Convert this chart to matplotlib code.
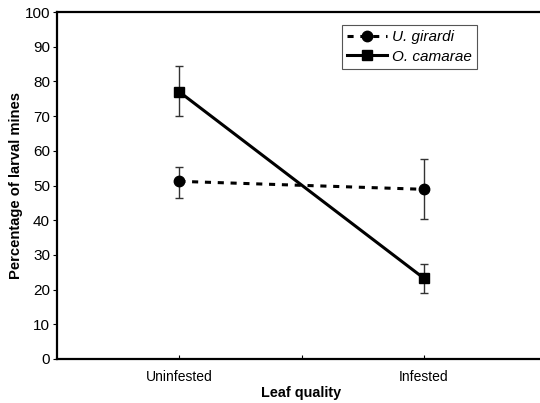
import matplotlib
matplotlib.use("Agg")
from matplotlib import pyplot as plt

plt.rcParams['font.family'] = ['Liberation Sans', 'DejaVu Sans']

categories = ["Uninfested", "Infested"]
girardi = [51.2, 48.9]
girardi_hi = [55.4, 57.5]
girardi_lo = [46.5, 40.3]
camarae = [77.0, 23.3]
camarae_hi = [84.3, 27.4]
camarae_lo = [69.9, 18.9]

xpos = [0, 1]

fig = plt.figure(figsize=(5.4, 4.03), dpi=100)
ax = fig.add_axes([57 / 540, 44 / 403, 489 / 540, 347 / 403])

ax.errorbar(xpos, girardi,
            yerr=[[g - l for g, l in zip(girardi, girardi_lo)],
                  [h - g for g, h in zip(girardi, girardi_hi)]],
            fmt="none", ecolor="#333333", elinewidth=1.0, capsize=3, capthick=1.0)
ax.errorbar(xpos, camarae,
            yerr=[[c - l for c, l in zip(camarae, camarae_lo)],
                  [h - c for c, h in zip(camarae, camarae_hi)]],
            fmt="none", ecolor="#333333", elinewidth=1.0, capsize=3, capthick=1.0)

ax.plot(xpos, girardi, color="black", lw=2.2, linestyle=(0, (2, 2.2)),
        marker="o", ms=7.5, label="U. girardi")
ax.plot(xpos, camarae, color="black", lw=2.2, linestyle="-",
        marker="s", ms=7, label="O. camarae")

ax.set_xlim(-0.5, 1.5)
ax.set_ylim(0, 100)
ax.set_yticks(range(0, 101, 10))
ax.set_xticks([0, 0.5, 1])
ax.set_xticklabels([categories[0], "", categories[1]])
ax.tick_params(axis="x", direction="in", length=3, width=0.8, labelsize=10, pad=8)
ax.tick_params(axis="y", direction="out", length=3, width=0.8, labelsize=11, pad=2)

for s in ax.spines.values():
    s.set_linewidth(1.6)

ax.set_xlabel("Leaf quality", fontsize=10.4, fontweight="bold", labelpad=1)
ax.set_ylabel("Percentage of larval mines", fontsize=10.6, fontweight="bold", labelpad=1)

leg = ax.legend(loc="upper left", bbox_to_anchor=(285 / 489, 1 - 13 / 347),
                fancybox=False, framealpha=1, edgecolor="#555555",
                prop={"style": "italic", "size": 11}, handlelength=2.6,
                borderaxespad=0, handletextpad=0.3, labelspacing=0.35,
                borderpad=0.35)
leg.get_frame().set_linewidth(0.8)

plt.savefig("out.png", dpi=100)
